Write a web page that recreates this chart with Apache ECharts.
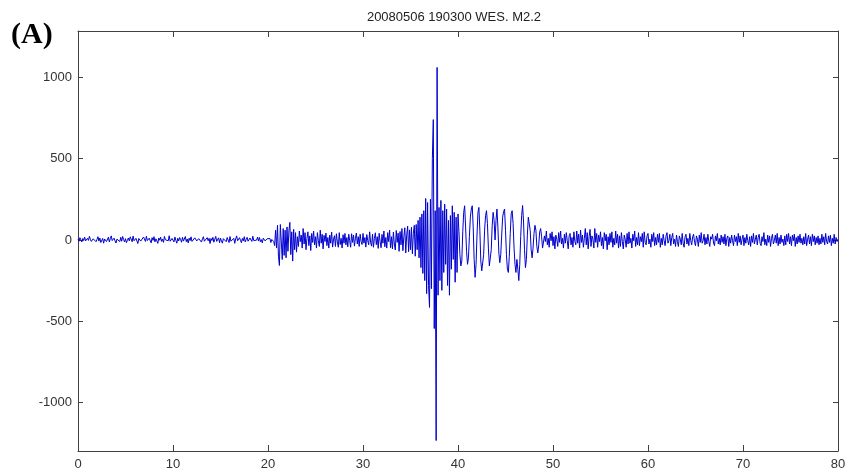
<!DOCTYPE html>
<html>
<head>
<meta charset="utf-8">
<script src="https://cdn.jsdelivr.net/npm/echarts@6/dist/echarts.min.js"></script>
<style>
html,body{margin:0;padding:0;background:#fff;}
#chart{width:849px;height:476px;}
</style>
</head>
<body>
<div id="chart"></div>
<script>
const titleText = '20080506 190300 WES. M2.2';
const panelLabel = '(A)';
const dt = 0.1; // seconds per sample
const xTicks = [0, 10, 20, 30, 40, 50, 60, 70, 80];
const yTicks = [-1000, -500, 0, 500, 1000];
const yMin = -1298, yMax = 1285;
const amplitude = [
5,-8,14,2,-12,9,-4,18,-6,-15,
10,-3,22,4,-9,-18,7,-2,15,-11,
3,20,-7,12,-16,-5,9,-20,6,14,
-10,2,17,-13,8,25,-4,-14,11,-6,
-19,5,13,-2,-10,16,-8,21,3,-12,
8,-17,-3,12,-6,19,7,-11,24,-5,
-14,10,-1,-22,9,15,-7,4,-16,18,
6,-9,23,-4,-13,11,2,-18,14,-3,
20,-12,7,-6,-21,12,-2,17,-9,5,
-15,22,1,-10,13,-5,26,-8,-17,9,
4,-12,18,-3,-20,10,-6,15,2,-14,
16,-7,-1,21,-11,6,-18,11,-4,19,
-9,3,-16,13,24,-6,-12,8,-3,17,
-13,7,20,-8,2,-19,14,-5,10,-22,
9,-4,16,-14,5,22,-9,-2,13,-17,
11,-6,-20,8,19,-3,-11,15,4,-16,
21,-8,2,-13,10,-21,7,25,-5,-10,
14,-2,-17,9,-6,20,-12,3,16,-8,
-19,12,5,-9,23,-4,-14,8,-1,18,
-7,15,-11,2,-18,11,21,-6,-13,7,
17,-5,9,-16,3,14,-10,-35,60,-50,
90,-100,-157,95,100,-120,70,-95,60,-110,
80,-70,55,108,-90,50,-130,65,-60,45,
-75,20,-40,55,-10,30,-50,70,-25,45,
-60,10,50,-35,25,-65,40,-15,55,-30,
20,-50,45,-5,-40,60,-20,35,-55,28,
-10,42,-35,15,-50,30,-20,48,-44,5,
26,-40,38,-12,-45,45,-28,10,-50,32,
-20,40,-30,15,-42,35,-5,-45,38,-15,
30,-38,10,42,-25,20,-40,35,-10,-28,
40,-20,15,-44,33,-5,-30,50,-15,-38,
36,-45,10,44,-29,20,-52,41,-10,-48,
34,-20,55,-42,15,-50,45,-10,60,-48,
20,-55,48,-25,-62,58,-15,42,-70,52,
-30,70,-66,20,75,-80,30,85,-72,62,
-60,78,-85,40,90,-100,95,-60,120,-110,
140,-170,160,-206,180,-250,255,-330,230,-280,
-415,250,-300,500,740,-545,180,-1234,1061,-340,
200,-250,243,-310,180,-200,220,-150,190,-280,
120,-340,150,-180,210,-120,170,-260,140,-200,
160,50,-90,-160,-130,50,170,210,80,-70,
-150,-110,20,140,190,210,80,-120,-230,-150,
30,170,200,60,-130,-190,-200,-90,60,150,
180,100,-50,-160,-170,-60,90,170,120,0,
120,190,80,-80,-140,-90,30,140,175,190,
60,-90,-180,-200,-100,40,160,180,100,-50,
-150,-200,-120,-180,-250,-150,20,150,212,110,
-60,-170,-120,30,140,150,60,-60,-110,-50,
40,90,60,-40,-80,-30,50,70,20,-50,
-60,25,-10,55,-30,10,-45,40,-5,50,
-35,20,-55,30,5,-40,45,-15,55,-25,
10,-50,35,-20,45,-5,-55,25,40,-30,
15,-45,50,-10,-30,55,-20,35,-50,60,
-15,30,-45,10,70,-30,45,-55,20,65,
-40,25,5,-50,70,-15,40,-45,30,-10,
50,-35,15,-55,45,-5,35,-60,20,-30,
40,-15,50,-45,10,-30,55,-20,35,-50,
25,-40,45,-10,-55,30,5,-45,40,-25,
50,-20,10,-50,35,-5,55,-40,15,-30,
45,-35,20,-10,40,-45,50,-15,-30,25,
40,-25,5,-45,35,-10,45,-35,15,-30,
35,-15,40,-45,10,-30,35,-5,-35,25,
45,-20,-5,35,-35,15,40,-25,5,-40,
30,-10,-40,25,5,-30,40,-20,-45,20,
35,-25,10,-35,40,-5,-30,20,35,-15,
-35,25,5,-40,30,-15,45,-20,-5,35,
-30,15,-25,35,-10,-40,20,5,35,-20,
-35,25,-5,40,-25,10,-30,30,-15,20,
-25,35,-35,10,25,-40,15,-20,30,-5,
-35,30,-10,20,-35,40,-15,25,-30,5,
30,-35,15,-20,35,-5,-30,20,-40,25,
-15,40,-25,5,30,-30,15,35,-20,-35,
20,-10,45,-30,5,-35,30,-15,25,-40,
10,35,-25,-5,30,-20,40,-35,15,-25,
30,-15,5,-35,25,-30,35,-10,40,-25,
20,-35,30,-5,35,-40,15,-25,25,-15,
35,-20,10,-30,20,-25,40,-35,5,30,
-25,20,-35,35,-10,25,-30,15,-20,25,
-30,10,-25,35,-15,20,-30,40,-10,-25,
25,-15,30,-35,10,-20,35,-25,15,-10,
5
];

const seriesData = amplitude.map((v, i) => [+(i * dt).toFixed(1), v]);

const axisColor = '#404040';
const labelStyle = { color: '#333', fontFamily: 'Liberation Sans, Arial, sans-serif', fontSize: 13 };

const chart = echarts.init(document.getElementById('chart'), null, { renderer: 'canvas' });
chart.setOption({
  animation: false,
  backgroundColor: '#fff',
  title: {
    text: titleText,
    left: 449,
    top: 6,
    textAlign: 'center',
    textStyle: { color: '#222', fontFamily: 'Liberation Sans, Arial, sans-serif', fontSize: 13, fontWeight: 'normal' }
  },
  graphic: [{
    type: 'text',
    left: 11,
    top: 20,
    style: { text: panelLabel, fill: '#000', font: 'bold 30px "Liberation Serif", "Times New Roman", serif' }
  }],
  grid: { left: 78, right: 11, top: 31, bottom: 25, containLabel: false },
  xAxis: [{
    type: 'value', min: 0, max: 80, interval: 10, position: 'bottom',
    axisLine: { show: true, onZero: false, lineStyle: { color: axisColor, width: 1 } },
    axisTick: { show: true, inside: true, length: 6, lineStyle: { color: axisColor } },
    axisLabel: { ...labelStyle, margin: 7, customValues: xTicks, formatter: v => String(v) },
    splitLine: { show: false }
  }, {
    type: 'value', min: 0, max: 80, interval: 10, position: 'top',
    axisLine: { show: true, onZero: false, lineStyle: { color: axisColor, width: 1 } },
    axisTick: { show: true, inside: true, length: 6, lineStyle: { color: axisColor } },
    axisLabel: { show: false },
    splitLine: { show: false }
  }],
  yAxis: [{
    type: 'value', min: yMin, max: yMax, position: 'left',
    axisLine: { show: true, onZero: false, lineStyle: { color: axisColor, width: 1 } },
    axisTick: { show: true, inside: true, length: 5, lineStyle: { color: axisColor }, customValues: yTicks },
    axisLabel: { ...labelStyle, margin: 6, customValues: yTicks, formatter: v => String(v) },
    splitLine: { show: false }
  }, {
    type: 'value', min: yMin, max: yMax, position: 'right',
    axisLine: { show: true, onZero: false, lineStyle: { color: axisColor, width: 1 } },
    axisTick: { show: true, inside: true, length: 5, lineStyle: { color: axisColor }, customValues: yTicks },
    axisLabel: { show: false },
    splitLine: { show: false }
  }],
  series: [{
    type: 'line',
    data: seriesData,
    xAxisIndex: 0,
    yAxisIndex: 0,
    showSymbol: false,
    symbol: 'none',
    sampling: null,
    lineStyle: { color: '#0000d0', width: 1 },
    silent: true
  }]
});
</script>
</body>
</html>
